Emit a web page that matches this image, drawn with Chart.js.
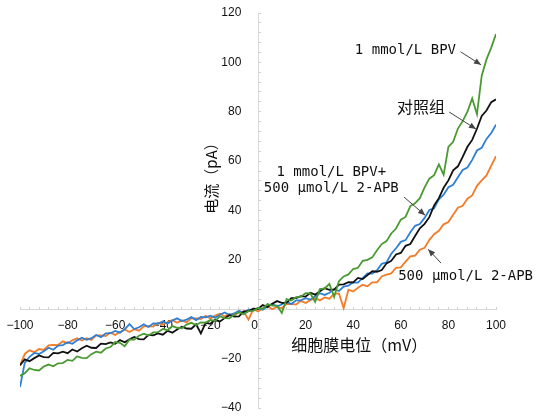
<!DOCTYPE html>
<html>
<head>
<meta charset="utf-8">
<script src="https://cdn.jsdelivr.net/npm/chart.js@4/dist/chart.umd.min.js"></script>
<style>
  html, body { margin: 0; padding: 0; background: #ffffff; }
  #wrap { width: 538px; height: 418px; position: relative; }
</style>
</head>
<body>
<div id="wrap"><canvas id="c" width="538" height="418"></canvas></div>
<script>
// Membrane potential (mV), sampled every 2 mV
const voltages = [
  -100, -98, -96, -94, -92, -90, -88, -86, -84, -82,
  -80, -78, -76, -74, -72, -70, -68, -66, -64, -62,
  -60, -58, -56, -54, -52, -50, -48, -46, -44, -42,
  -40, -38, -36, -34, -32, -30, -28, -26, -24, -22,
  -20, -18, -16, -14, -12, -10, -8, -6, -4, -2,
  0, 2, 4, 6, 8, 10, 12, 14, 16, 18,
  20, 22, 24, 26, 28, 30, 32, 34, 36, 38,
  40, 42, 44, 46, 48, 50, 52, 54, 56, 58,
  60, 62, 64, 66, 68, 70, 72, 74, 76, 78,
  80, 82, 84, 86, 88, 90, 92, 94, 96, 98,
  100
];

// 1 mmol/L BPV (green), pA
const bpv = [
  -27.0, -25.9, -23.9, -24.6, -24.8, -23.2, -22.4, -23.1, -21.9, -21.8,
  -20.5, -20.9, -19.1, -19.7, -19.8, -18.2, -17.2, -17.6, -15.9, -15.3,
  -13.3, -13.6, -15.0, -12.2, -12.3, -10.7, -9.9, -10.6, -9.4, -9.3,
  -8.0, -8.5, -6.8, -7.5, -7.7, -6.2, -5.5, -6.4, -5.3, -5.4,
  -4.3, -4.7, -2.9, -3.6, -3.7, -2.1, -1.3, -2.0, -0.8, -0.7,
  0.5, 0.2, 2.1, 1.5, 1.5, -1.5, 4.1, 3.5, 4.9, 5.1,
  6.5, 6.4, 3.0, 8.2, 8.4, 10.3, 5.0, 11.4, 13.3, 14.1,
  16.3, 16.8, 19.6, 20.0, 21.0, 23.9, 26.4, 27.6, 30.7, 32.7,
  36.3, 37.4, 41.8, 42.9, 45.0, 49.4, 52.9, 54.3, 58.7, 54.5,
  65.8, 67.8, 73.2, 76.2, 80.0, 85.4, 79.0, 94.6, 101.2, 106.0,
  111.5
];

// 对照组 (black), pA
const control = [
  -22.7, -20.3, -21.1, -19.8, -18.7, -19.4, -19.5, -17.7, -17.9, -17.2,
  -17.8, -16.3, -17.1, -15.8, -14.8, -15.6, -15.7, -13.9, -14.1, -13.4,
  -14.0, -12.5, -13.4, -12.2, -11.2, -12.1, -12.2, -10.4, -10.6, -9.8,
  -10.3, -8.7, -9.5, -8.2, -7.1, -7.8, -7.9, -6.1, -9.8, -5.5,
  -5.9, -4.3, -5.0, -3.6, -2.4, -3.0, -2.9, -0.9, -0.8, 0.2,
  0.1, 1.7, 0.9, 2.2, 3.3, 2.6, 2.6, 4.5, 4.5, 5.3,
  5.1, 6.7, 5.9, 7.3, 8.5, 7.9, 8.0, 10.0, 10.1, 11.0,
  10.9, 12.7, 12.2, 13.8, 15.4, 15.2, 15.9, 18.6, 19.6, 22.2,
  22.8, 25.7, 26.4, 29.7, 32.8, 34.6, 37.3, 42.1, 45.0, 49.2,
  52.2, 56.3, 57.9, 61.7, 65.8, 68.6, 73.1, 78.3, 80.5, 83.9,
  85.0
];

// 1 mmol/L BPV + 500 μmol/L 2-APB (blue), pA
const bpvApb = [
  -31.5, -21.7, -19.3, -17.7, -18.1, -17.0, -15.6, -16.4, -14.7, -14.5,
  -13.4, -14.0, -12.6, -11.5, -12.4, -11.7, -10.4, -11.3, -9.8, -9.7,
  -8.8, -9.5, -8.1, -6.0, -8.0, -7.3, -6.1, -7.2, -5.7, -5.8,
  -5.0, -5.8, -4.6, -3.7, -4.8, -4.2, -3.2, -4.4, -3.1, -3.3,
  -2.6, -3.4, -2.2, -1.3, -2.3, -1.7, -0.6, -1.6, -0.2, -0.3,
  0.5, -0.2, 1.1, 2.1, 1.2, 1.9, 3.1, 2.1, 3.6, 3.6,
  4.5, 3.9, 5.3, 6.5, 5.8, 6.7, 8.1, 7.4, 9.2, 9.6,
  10.9, 10.8, 12.7, 14.5, 14.4, 15.8, 18.4, 19.0, 22.5, 24.7,
  27.3, 28.0, 31.2, 33.8, 34.5, 37.0, 40.2, 40.9, 44.5, 46.4,
  49.4, 50.4, 53.5, 56.4, 57.4, 60.5, 64.3, 65.4, 69.0, 71.4,
  74.8
];

// 500 μmol/L 2-APB (orange), pA
const apb = [
  -22.8, -18.1, -16.6, -17.4, -16.1, -16.5, -14.6, -14.4, -14.5, -13.0,
  -13.8, -12.6, -11.7, -12.7, -11.7, -12.4, -10.6, -10.6, -10.9, -9.5,
  -10.4, -9.2, -8.2, -9.2, -8.1, -8.7, -6.9, -6.8, -7.0, -5.5,
  -6.3, -5.2, -4.4, -5.5, -4.5, -5.3, -3.6, -3.7, -4.0, -2.7,
  -3.7, -2.6, -1.8, -2.9, -1.9, -2.7, -1.0, -1.0, -4.2, 0.0,
  -0.9, 0.3, 1.1, 0.0, 1.0, 0.4, 2.1, 2.2, 1.9, 3.4,
  2.5, 3.7, 4.6, 3.6, 4.8, 4.3, 6.2, 6.4, 0.5, 7.9,
  7.2, 8.7, 9.9, 9.3, 10.9, 10.9, 13.3, 14.0, 14.5, 16.8,
  17.0, 19.3, 21.4, 21.7, 24.1, 24.9, 28.1, 30.4, 31.8, 34.4,
  35.3, 38.3, 41.1, 41.9, 44.8, 46.1, 50.0, 52.2, 54.2, 58.2,
  62.0
];

// Tick labels
const xTickLabels = ['−100', '−80', '−60', '−40', '−20', '0\u2007', '20', '40', '60', '80', '100'];
const yTickLabels = ['−40', '−20', '', '20', '40', '60', '80', '100', '120'];
const xTitle = '细胞膜电位（mV）';
const yTitle = '电流（pA）';

const toPoints = (arr) => voltages.map((v, i) => ({ x: v, y: arr[i] }));

const tickFont = { family: 'Liberation Sans, Arial, sans-serif', size: 12 };

function xLabel(v) {
  const idx = (v + 100) / 20;
  return Number.isInteger(idx) ? xTickLabels[idx] : '';
}
function yLabel(v) {
  const idx = (v + 40) / 20;
  return Number.isInteger(idx) && yTickLabels[idx] ? yTickLabels[idx] + '\u2007\u2007 ' : '';
}

function zeroPad(s) {
  s.paddingLeft = 0; s.paddingRight = 0; s.paddingTop = 0; s.paddingBottom = 0;
}

function arrow(ctx, x1, y1, x2, y2) {
  ctx.beginPath();
  ctx.moveTo(x1, y1);
  ctx.lineTo(x2, y2);
  ctx.stroke();
  const a = Math.atan2(y2 - y1, x2 - x1);
  const L = 7, W = 3;
  ctx.beginPath();
  ctx.moveTo(x2, y2);
  ctx.lineTo(x2 - L * Math.cos(a) + W * Math.sin(a), y2 - L * Math.sin(a) - W * Math.cos(a));
  ctx.lineTo(x2 - L * Math.cos(a) - W * Math.sin(a), y2 - L * Math.sin(a) + W * Math.cos(a));
  ctx.closePath();
  ctx.fill();
}

const labelPlugin = {
  id: 'labels',
  afterDraw(chart) {
    const { ctx } = chart;
    const sx = chart.scales.x, sy = chart.scales.y;
    const X = (v) => sx.getPixelForValue(v);
    const Y = (v) => sy.getPixelForValue(v);
    ctx.save();
    ctx.fillStyle = '#111';
    // axis titles
    ctx.font = '16px "Noto Sans CJK SC", sans-serif';
    ctx.textAlign = 'left';
    ctx.textBaseline = 'middle';
    ctx.fillText(xTitle, X(14), Y(-14.6));
    ctx.save();
    ctx.translate(X(-19.6), Y(54.6));
    ctx.rotate(-Math.PI / 2);
    ctx.font = '15px "Noto Sans CJK SC", sans-serif';
    ctx.textAlign = 'center';
    ctx.fillText(yTitle, 0, 0);
    ctx.restore();

    // annotations
    const mono = '14px "DejaVu Sans Mono", monospace';
    ctx.font = mono;
    ctx.textAlign = 'right';
    ctx.fillText('1 mmol/L BPV', X(83.2), Y(105));
    ctx.font = '16px "Noto Sans CJK SC", sans-serif';
    ctx.fillText('对照组', X(78.6), Y(82));
    ctx.font = mono;
    ctx.textAlign = 'center';
    ctx.fillText('1 mmol/L BPV+', X(30.8), Y(55.6));
    ctx.fillText('500 μmol/L 2-APB', X(30.8), Y(49.1));
    ctx.textAlign = 'left';
    ctx.fillText('500 μmol/L 2-APB', X(58.9), Y(13.4));

    ctx.strokeStyle = '#444';
    ctx.fillStyle = '#444';
    ctx.lineWidth = 1;
    arrow(ctx, X(85.1), Y(104.3), X(93.7), Y(99.0));
    arrow(ctx, X(80.3), Y(79.9), X(91.6), Y(73.0));
    arrow(ctx, X(61.4), Y(45.4), X(70.2), Y(38.1));
    arrow(ctx, X(76.9), Y(18.7), X(71.5), Y(24.3));
    ctx.restore();
  }
};

const lineDs = (label, arr, color, order) => ({
  label,
  data: toPoints(arr),
  borderColor: color,
  backgroundColor: color,
  borderWidth: 1.8,
  pointRadius: 0,
  tension: 0,
  order
});

new Chart(document.getElementById('c'), {
  type: 'line',
  data: {
    datasets: [
      lineDs('1 mmol/L BPV', bpv, '#4a9a32', 0),
      lineDs('对照组', control, '#111111', 1),
      lineDs('1 mmol/L BPV+500 μmol/L 2-APB', bpvApb, '#2f80d4', 2),
      lineDs('500 μmol/L 2-APB', apb, '#f27c28', 3)
    ]
  },
  options: {
    responsive: false,
    animation: false,
    layout: { padding: { left: 20, right: 42, top: 13, bottom: 10 } },
    plugins: { legend: { display: false }, tooltip: { enabled: false } },
    scales: {
      x: {
        type: 'linear',
        min: -100, max: 100,
        position: { y: 0 },
        afterFit(s) { s.height = 0; zeroPad(s); },
        border: { display: true, color: '#d9d9d9', width: 1 },
        grid: { drawOnChartArea: false, drawTicks: true, tickLength: -3, tickColor: '#d0d0d0' },
        ticks: { stepSize: 4, autoSkip: false, maxRotation: 0, padding: 12, color: '#111', font: tickFont, callback: xLabel }
      },
      y: {
        type: 'linear',
        min: -40, max: 120,
        position: { x: 0 },
        afterFit(s) { s.width = 0; zeroPad(s); },
        border: { display: true, color: '#d9d9d9', width: 1 },
        grid: { drawOnChartArea: false, drawTicks: true, tickLength: -3, tickColor: '#d0d0d0' },
        ticks: { stepSize: 4, autoSkip: false, padding: 12, color: '#111', font: tickFont, callback: yLabel }
      }
    }
  },
  plugins: [labelPlugin]
});
</script>
</body>
</html>
